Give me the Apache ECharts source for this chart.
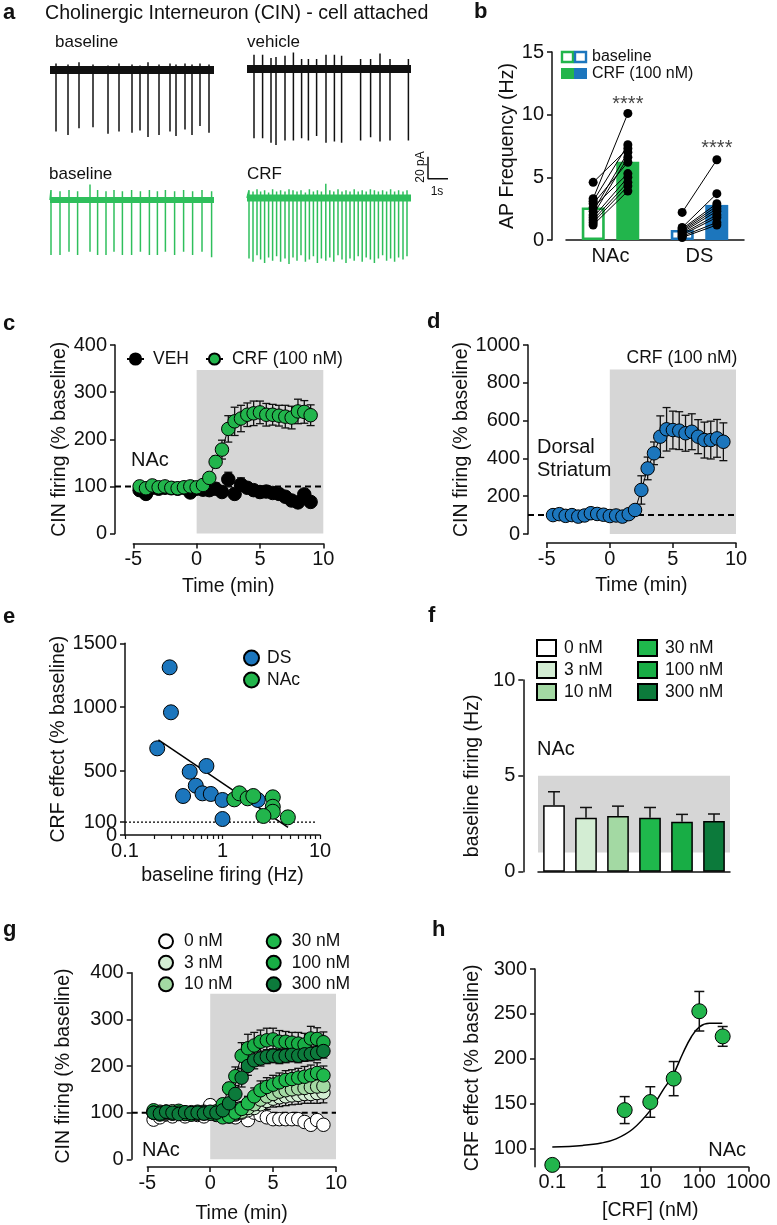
<!DOCTYPE html>
<html><head><meta charset="utf-8">
<script src="https://cdn.jsdelivr.net/npm/echarts@6/dist/echarts.min.js"></script>
<style>html,body{margin:0;padding:0;background:#fff}#c{width:777px;height:1225px}</style>
</head><body><div id="c"></div><script>
// ================= DATA =================
// Panel a: spike trains (time in s, amplitudes in pA)
const traceLengthS = 8.2;
const scaleBarPA = 20, scaleBarS = 1;
const blkBaseTimes = [0.3,0.9,1.45,2.15,2.9,3.45,4.1,4.5,4.9,5.45,6.0,6.3,6.75,7.1,7.5,7.95];
const blkBaseDown  = [56,59,53,52,58,56,57,55,61,59,56,60,54,59,51,57];
const blkBaseUp    = [6,5,7,5,4,6,5,4,7,5,6,5,6,5,6,5];
const vehTimes = [0.35,0.78,1.2,1.45,1.9,2.32,2.73,3.07,3.48,3.95,4.37,4.73,5.68,6.18,6.65,7.15,8.07];
const vehDown  = [63,63,67,69,65,65,63,65,61,67,66,67,65,62,66,65,65];
const vehUp    = [13,13,10,11,12,15,9,9,9,13,13,12,9,9,14,9,9];
const grnBaseTimes = [0.05,0.5,0.95,1.38,2.0,2.38,2.8,3.2,3.62,4.08,4.52,4.97,5.37,5.77,6.23,6.68,7.13,7.6,8.08];
const grnBaseDown  = [50,50,47,50,47,50,50,47,50,50,47,50,50,47,50,47,50,47,52];
const grnBaseUp    = [9,8,9,8,14,9,8,9,8,9,8,9,8,9,8,9,8,9,8];
const crfTimes = [0.1,0.3,0.5,0.68,0.88,1.08,1.28,1.48,1.68,1.9,2.1,2.3,2.5,2.7,2.92,3.12,3.32,3.52,3.72,3.94,4.14,4.34,4.55,4.75,4.95,5.15,5.36,5.56,5.76,5.96,6.17,6.37,6.57,6.78,6.98,7.18,7.38,7.58,7.8,8.0];
const crfDown  = [55,58,52,56,59,54,57,53,58,55,60,54,57,52,58,56,53,59,55,57,54,58,52,56,59,55,57,53,58,54,56,59,55,52,57,55,58,54,56,53];
const crfUp    = [7,6,8,6,7,5,8,6,7,6,8,7,6,7,5,8,6,7,6,13,7,6,8,6,7,6,8,6,7,6,8,7,6,7,6,8,6,7,6,7];

// Panel b
const bCategories = ['NAc','DS'];
const bBaselineMean = [2.6, 0.8];
const bCrfMean = [6.25, 2.8];
const nacBase = [4.6,3.3,3.1,2.9,2.6,2.3,2.0,1.8,1.6,1.4,1.2];
const nacCrf  = [7.3,10.1,7.6,6.2,5.3,7.0,6.6,5.0,4.6,4.3,3.9];
const dsBase  = [2.2,1.0,0.9,0.8,0.7,0.6,0.5,0.4,0.3,0.2];
const dsCrf   = [6.4,3.7,2.9,2.7,2.5,2.3,2.0,1.8,1.4,1.2];
const bStars = ['****','****'];
const bStarY = [10.8, 7.3];

// Time axis shared by c, d, g (min)
const timeMin = [-4.5,-4,-3.5,-3,-2.5,-2,-1.5,-1,-0.5,0,0.5,1,1.5,2,2.5,3,3.5,4,4.5,5,5.5,6,6.5,7,7.5,8,8.5,9];

// Panel c
const cVeh    = [92,84,97,95,97,96,95,97,87,95,93,92,95,88,115,84,104,97,92,88,89,86,84,78,70,66,83,67];
const cVehErr = [8,8,6,6,6,6,6,8,6,6,8,8,12,10,15,10,14,10,10,12,12,10,10,10,8,8,8,8];
const cCrf    = [100,96,102,98,100,97,96,98,100,98,103,118,152,178,222,238,244,252,255,257,252,252,250,248,246,259,258,251];
const cCrfErr = [6,6,6,6,6,6,6,6,6,6,6,10,12,20,28,30,28,25,26,24,24,22,22,24,24,26,24,22];

// Panel d
const dCrf    = [100,105,96,100,92,98,110,106,102,95,98,92,105,127,233,347,427,515,554,550,547,533,541,515,497,497,506,488];
const dCrfErr = [10,10,8,10,8,8,10,10,8,8,8,8,10,20,75,60,60,110,115,100,100,95,95,90,95,100,100,100];

// Panel e
const eDsX  = [0.287,0.296,0.214,0.684,0.461,0.532,0.394,0.622,0.759,1.0,1.0,2.30];
const eDsY  = [1312,960,678,540,495,386,305,326,321,274,125,274];
const eNacX = [1.32,1.49,1.81,2.07,3.28,3.28,3.28,2.63,4.68];
const eNacY = [279,326,287,305,295,221,182,149,138];
const eFitX = [0.22, 4.7];
const eFitY = [745, 60];
const eYTicks = [0,100,500,1000,1500];
const eYLabels = [100,500,1000,1500];
const eYZeroLabel = [0];
const eXTicks = [0.1,0.2,0.3,0.4,0.5,0.6,0.7,0.8,0.9,1,2,3,4,5,6,7,8,9,10];
const eXLabels = [0.1,1,10];

// Panel f
const doseLabels = ['0 nM','3 nM','10 nM','30 nM','100 nM','300 nM'];
const doseColors = ['#ffffff','#d3edd3','#a3d9a3','#1fb84c','#18ad45','#0c7a3b'];
const fBaseline    = [3.47,2.81,2.9,2.81,2.6,2.65];
const fBaselineErr = [0.7,0.54,0.52,0.54,0.39,0.36];
const fShadeY = [1, 5];

// Panel g
const g0   = [85,90,96,92,100,92,96,95,92,116,95,95,92,90,110,84,100,95,90,86,86,86,86,86,80,74,84,74];
const g3   = [100,102,98,100,101,99,97,100,102,98,100,95,92,96,100,105,110,118,125,130,133,135,137,138,140,140,142,143];
const g10  = [102,98,100,103,99,100,101,98,100,99,98,94,95,98,102,110,118,128,135,140,145,148,150,152,153,155,156,157];
const g30  = [105,100,102,98,104,100,99,102,98,100,96,90,92,100,108,120,135,148,155,160,165,170,172,175,177,180,185,180];
const g100 = [100,96,102,98,100,97,96,98,100,98,103,118,152,178,222,238,244,252,255,257,252,252,250,248,246,259,258,251];
const g300 = [100,98,102,100,97,101,99,100,98,102,100,105,120,140,175,200,212,216,220,222,220,222,224,222,225,226,228,232];
const g0Err   = [8,8,8,8,8,8,8,8,8,12,10,8,8,8,10,8,8,8,8,8,8,8,8,8,8,8,8,8];
const g3Err   = [8,8,8,8,8,8,8,8,8,8,8,8,8,8,10,12,15,15,18,18,20,20,20,20,20,20,22,22];
const g10Err  = [8,8,8,8,8,8,8,8,8,8,8,8,8,8,10,12,15,16,18,18,18,20,20,20,20,20,20,20];
const g30Err  = [8,8,8,8,8,8,8,8,8,8,8,8,8,10,12,15,18,20,20,20,20,20,20,20,22,22,22,20];
const g100Err = [6,6,6,6,6,6,6,6,6,6,6,10,12,20,28,30,28,25,26,24,24,22,22,24,24,26,24,22];
const g300Err = [6,6,6,6,6,6,6,6,6,6,6,8,12,18,20,20,18,16,15,15,15,15,15,15,15,15,15,15];

// Panel h
const hDose = [0.1,3,10,30,100,300];
const hEffect = [82,143,152,178,253,225];
const hErr = [0,15,17,19,22,11];
const hCurveX = [0.1,0.42,1,2,4.4,10,18,29,46,69,101,162,295];
const hCurveY = [101.8,103.7,106.3,111,122,142.7,165,181.8,206,224.6,235.7,239.5,239.5];
const hYTicks = [100,150,200,250,300];

// ================= BUILD =================
const FONT = '"Liberation Sans", Arial, Helvetica, sans-serif';
const INK = '#111';
const GREEN = '#22b54c', BLUE = '#1c76bd', TRACE_GREEN = '#2fbf5c', SHADE = '#d6d6d6';
const grid = [], xAxis = [], yAxis = [], series = [], legend = [], graphic = [];
const plain = v => String(v);

function G(l, t, w, h) { grid.push({left:l, top:t, width:w, height:h}); return grid.length - 1; }
function merge(a, b) {
  const o = Object.assign({}, a);
  for (const k in b) {
    if (b[k] && typeof b[k] === 'object' && !Array.isArray(b[k]) && a[k] && typeof a[k] === 'object') o[k] = merge(a[k], b[k]);
    else o[k] = b[k];
  }
  return o;
}
const visBase = {
  axisLine:{show:true, onZero:false, lineStyle:{color:INK, width:1.5}},
  axisTick:{show:true, length:5, lineStyle:{color:INK, width:1.5}},
  axisLabel:{color:INK, fontSize:20, fontFamily:FONT, margin:8, formatter:plain, hideOverlap:false},
  splitLine:{show:false},
  nameTextStyle:{color:INK, fontSize:19.5, fontFamily:FONT}
};
function X(gi, o) { xAxis.push(merge(merge({gridIndex:gi}, visBase), o)); return xAxis.length - 1; }
function Y(gi, o) { yAxis.push(merge(merge({gridIndex:gi}, visBase), o)); return yAxis.length - 1; }
function HX(gi, o) { xAxis.push(Object.assign({gridIndex:gi, type:'value', show:false}, o)); return xAxis.length - 1; }
function HY(gi, o) { yAxis.push(Object.assign({gridIndex:gi, type:'value', show:false}, o)); return yAxis.length - 1; }

function errBars(xi, yi, pts, opt) {
  opt = opt || {};
  const color = opt.color || INK, cap = opt.cap || 4, lw = opt.lw || 1.3;
  return {
    type:'custom', xAxisIndex:xi, yAxisIndex:yi, z:opt.z || 2, clip:false, silent:true, data:pts,
    renderItem(params, api) {
      const x = api.value(0), y = api.value(1), e = api.value(2);
      if (!e) return null;
      const top = api.coord([x, y + e]);
      const bot = api.coord([x, opt.upOnly ? y : y - e]);
      const st = {stroke:color, lineWidth:lw};
      const ch = [
        {type:'line', shape:{x1:top[0], y1:top[1], x2:bot[0], y2:bot[1]}, style:st},
        {type:'line', shape:{x1:top[0]-cap, y1:top[1], x2:top[0]+cap, y2:top[1]}, style:st}
      ];
      if (!opt.upOnly) ch.push({type:'line', shape:{x1:bot[0]-cap, y1:bot[1], x2:bot[0]+cap, y2:bot[1]}, style:st});
      return {type:'group', children:ch};
    }
  };
}
function txt(t, x, y, o) {
  o = o || {};
  graphic.push({type:'text', x:x, y:y, rotation:o.rot || 0, z:50, silent:true,
    style:{text:t, fill:o.color || INK, font:(o.weight || 'normal') + ' ' + (o.size || 19.5) + 'px ' + FONT,
      textAlign:o.align || 'left', align:o.align || 'left', textVerticalAlign:'middle', verticalAlign:'middle'}});
}
function zip(xs, ys) { return xs.map((x, i) => [x, ys[i]]); }
function zip3(xs, ys, es) { return xs.map((x, i) => [x, ys[i], es[i]]); }

// ---------- Panel a ----------
function tracePoints(times, up, down, len) {
  const p = [[0, 0]];
  times.forEach((t, i) => { p.push([t, 0], [t, up[i]], [t, -down[i]], [t, 0]); });
  p.push([len, 0]);
  return p;
}
function traceGrid(left, top, width, xmax, times, up, down, color, band) {
  const gi = G(left, top, width, 126.5);
  const xi = HX(gi, {min:0, max:xmax});
  const yi = HY(gi, {min:-70, max:45});
  series.push({type:'line', xAxisIndex:xi, yAxisIndex:yi, data:[[0,0],[traceLengthS,0]], showSymbol:false, symbol:'none',
    lineStyle:{color:color, width:band}, silent:true, z:2});
  series.push({type:'line', xAxisIndex:xi, yAxisIndex:yi, data:tracePoints(times, up, down, traceLengthS), showSymbol:false, symbol:'none',
    lineStyle:{color:color, width:1.5}, silent:true, z:3});
  return [xi, yi];
}
traceGrid(50, 20.5, 164, 8.2, blkBaseTimes, blkBaseUp, blkBaseDown, '#111', 8);
traceGrid(247, 19.5, 164, 8.2, vehTimes, vehUp, vehDown, '#111', 8);
traceGrid(50, 150.5, 164, 8.2, grnBaseTimes, grnBaseUp, grnBaseDown, TRACE_GREEN, 6);
const crfAx = traceGrid(247, 148.5, 202, 10.1, crfTimes, crfUp, crfDown, TRACE_GREEN, 7);
// scale bar (20 pA, 1 s)
series.push({type:'line', xAxisIndex:crfAx[0], yAxisIndex:crfAx[1], showSymbol:false, symbol:'none', silent:true,
  data:[[9.05, 17.5 + scaleBarPA], [9.05, 17.5], [9.05 + scaleBarS, 17.5]], lineStyle:{color:INK, width:1.5}});

txt('a', 3, 13, {weight:'bold', size:22});
txt('Cholinergic Interneuron (CIN) - cell attached', 45, 14, {size:19.6});
txt('baseline', 55, 42, {size:17});
txt('vehicle', 247, 42, {size:17});
txt('baseline', 49, 174, {size:17});
txt('CRF', 247, 174, {size:17});
txt(scaleBarPA + ' pA', 421, 167, {size:12, rot:Math.PI / 2, align:'center'});
txt(scaleBarS + 's', 437, 192, {size:12, align:'center'});

// ---------- Panel b ----------
{
  const gi = G(566, 52, 178, 188);
  const xc = X(gi, {type:'category', data:bCategories, axisTick:{show:false}, axisLabel:{margin:6}});
  const xv = HX(gi, {min:0, max:4});
  const yi = Y(gi, {type:'value', min:0, max:15, interval:5, offset:14, name:'AP Frequency (Hz)',
    nameLocation:'middle', nameRotate:90, nameGap:34});
  series.push({type:'bar', name:'b-baseline', xAxisIndex:xc, yAxisIndex:yi, barWidth:23, barGap:'50%', z:2,
    data:[{value:bBaselineMean[0], itemStyle:{color:'#fff', borderColor:GREEN, borderWidth:2.6}},
          {value:bBaselineMean[1], itemStyle:{color:'#fff', borderColor:BLUE, borderWidth:2.6}}]});
  series.push({type:'bar', name:'b-crf', xAxisIndex:xc, yAxisIndex:yi, barWidth:23, z:2,
    data:[{value:bCrfMean[0], itemStyle:{color:GREEN}}, {value:bCrfMean[1], itemStyle:{color:BLUE}}]});
  const pairs = [[nacBase, nacCrf, 0.61, 1.39], [dsBase, dsCrf, 2.61, 3.39]];
  pairs.forEach(([bs, cs, x0, x1]) => {
    bs.forEach((b, i) => {
      series.push({type:'line', xAxisIndex:xv, yAxisIndex:yi, data:[[x0, b], [x1, cs[i]]], symbol:'circle', symbolSize:9,
        itemStyle:{color:'#000'}, lineStyle:{color:'#000', width:1}, z:4, silent:true});
    });
  });
  series.push({type:'scatter', xAxisIndex:xv, yAxisIndex:yi, symbolSize:1, itemStyle:{color:'rgba(0,0,0,0)'}, z:5, silent:true,
    data:[[1.39, bStarY[0], bStars[0]], [3.39, bStarY[1], bStars[1]]],
    label:{show:true, position:'inside', formatter:p => p.value[2], color:INK, fontSize:20, fontFamily:FONT}});
  txt('b', 474, 12, {weight:'bold', size:22});
  graphic.push({type:'rect', shape:{x:562, y:52, width:11, height:10}, style:{fill:'#fff', stroke:GREEN, lineWidth:2.4}, z:50});
  graphic.push({type:'rect', shape:{x:575, y:52, width:11, height:10}, style:{fill:'#fff', stroke:BLUE, lineWidth:2.4}, z:50});
  graphic.push({type:'rect', shape:{x:561, y:68, width:13, height:11}, style:{fill:GREEN}, z:50});
  graphic.push({type:'rect', shape:{x:574, y:68, width:13, height:11}, style:{fill:BLUE}, z:50});
  txt('baseline', 592, 57, {size:16});
  txt('CRF (100 nM)', 592, 73.5, {size:16});
}

// ---------- helper for time-course panels ----------
function timePanel(cfg) {
  const gi = G(cfg.yAxisX, cfg.top, cfg.x10 - cfg.yAxisX, cfg.height);
  const pxPerMin = (cfg.x10 - cfg.xm5) / 15;
  const xmin = -5 - (cfg.xm5 - cfg.yAxisX) / pxPerMin;
  const xi = HX(gi, {min:xmin, max:10});
  const yi = Y(gi, {type:'value', min:0, max:cfg.ymax, interval:cfg.yint, name:'CIN firing (% baseline)',
    nameLocation:'middle', nameRotate:90, nameGap:cfg.nameGap});
  const gi2 = G(cfg.xm5, cfg.top, cfg.x10 - cfg.xm5, cfg.height);
  X(gi2, {type:'value', min:-5, max:10, interval:5, offset:cfg.xOffset, name:'Time (min)', nameLocation:'middle', nameGap:cfg.xNameGap || 33,
    axisLabel:{margin:6}});
  HY(gi2, {min:0, max:cfg.ymax});
  series.push({type:'line', xAxisIndex:xi, yAxisIndex:yi, data:[[xmin, 100], [10, 100]], symbol:'none', silent:true, z:1,
    lineStyle:{color:'#000', width:2, type:[6, 4]},
    markArea:{silent:true, itemStyle:{color:SHADE}, data:[[{coord:[0, 0]}, {coord:[10, cfg.shadeTop]}]]}});
  return [xi, yi];
}
function markerSeries(name, xi, yi, ys, color, z) {
  return {type:'line', name:name, xAxisIndex:xi, yAxisIndex:yi, data:zip(timeMin, ys), symbol:'circle', symbolSize:13.5,
    showSymbol:true, itemStyle:{color:color, borderColor:'#000', borderWidth:1}, lineStyle:{color:'#000', width:1}, z:z || 4, silent:true};
}

// ---------- Panel c ----------
{
  const [xi, yi] = timePanel({yAxisX:115, xm5:133.3, x10:323.3, top:345, height:188.5, ymax:400, yint:100, shadeTop:347, nameGap:42, xOffset:10});
  series.push(errBars(xi, yi, zip3(timeMin, cVeh, cVehErr), {cap:4}));
  series.push(errBars(xi, yi, zip3(timeMin, cCrf, cCrfErr), {cap:4}));
  series.push(markerSeries('VEH', xi, yi, cVeh, '#000', 4));
  series.push(markerSeries('CRF (100 nM)', xi, yi, cCrf, GREEN, 5));
  legend.push({data:['VEH', 'CRF (100 nM)'], left:126, top:350, itemWidth:17, itemHeight:14, itemGap:16, padding:0,
    selectedMode:false, textStyle:{fontSize:17.5, fontFamily:FONT, color:INK, padding:[0,0,0,4]}});
  txt('c', 3, 324, {weight:'bold', size:22});
  txt('NAc', 131, 460, {size:20});
}

// ---------- Panel d ----------
{
  const [xi, yi] = timePanel({yAxisX:528, xm5:546.7, x10:736, top:345, height:189, ymax:1000, yint:200, shadeTop:870, nameGap:55, xOffset:9});
  series.push(errBars(xi, yi, zip3(timeMin, dCrf, dCrfErr), {cap:4}));
  series.push(markerSeries('d-CRF', xi, yi, dCrf, BLUE, 5));
  txt('d', 427, 322, {weight:'bold', size:22});
  txt('CRF (100 nM)', 682, 358, {size:17.5, align:'center'});
  txt('Dorsal', 537, 447, {size:20});
  txt('Striatum', 537, 470, {size:20});
}

// ---------- Panel e ----------
{
  const gi = G(125, 643.3, 195, 191.7);
  const xi = X(gi, {type:'log', logBase:10, min:0.1, max:10, name:'baseline firing (Hz)', nameLocation:'middle', nameGap:31,
    axisTick:{customValues:eXTicks, length:4, lineStyle:{width:1.2}}, axisLabel:{margin:6, customValues:eXLabels}});
  const yi = Y(gi, {type:'value', min:0, max:1500, position:'left', name:'CRF effect (% baseline)', nameLocation:'middle', nameRotate:90, nameGap:52,
    axisTick:{customValues:eYTicks}, axisLabel:{customValues:eYLabels}});
  // second left axis carrying only the "0" label (it overlaps "100" in the original)
  Y(gi, {type:'value', min:0, max:1500, position:'left', offset:0, axisLine:{show:false}, axisTick:{show:false},
    axisLabel:{customValues:eYZeroLabel}});
  series.push({type:'line', xAxisIndex:xi, yAxisIndex:yi, data:[[0.1, 100], [9.2, 100]], symbol:'none', silent:true, z:1,
    lineStyle:{color:'#000', width:1.3, type:[2, 2]}});
  series.push({type:'line', xAxisIndex:xi, yAxisIndex:yi, data:zip(eFitX, eFitY), symbol:'none', silent:true, z:2,
    lineStyle:{color:'#000', width:1.5}});
  series.push({type:'scatter', name:'DS', xAxisIndex:xi, yAxisIndex:yi, data:zip(eDsX, eDsY), symbolSize:15, z:3,
    itemStyle:{color:BLUE, borderColor:'#000', borderWidth:1, opacity:1}});
  series.push({type:'scatter', name:'NAc', xAxisIndex:xi, yAxisIndex:yi, data:zip(eNacX, eNacY), symbolSize:15, z:4,
    itemStyle:{color:GREEN, borderColor:'#000', borderWidth:1, opacity:1}});
  legend.push({data:['DS', 'NAc'], orient:'vertical', left:243, top:649, itemWidth:15, itemHeight:15, itemGap:4, padding:0,
    icon:'circle', selectedMode:false, textStyle:{fontSize:17.5, fontFamily:FONT, color:INK, lineHeight:15, padding:[0,0,0,3]}});
  txt('e', 3, 617, {weight:'bold', size:22});
}

// ---------- Panel f ----------
{
  const gi = G(538, 680, 192, 191.7);
  const xi = X(gi, {type:'category', data:doseLabels, axisTick:{show:false}, axisLabel:{show:false}});
  const xv = HX(gi, {min:0, max:1});
  const yi = Y(gi, {type:'value', min:0, max:10, interval:5, offset:14.7, name:'baseline firing (Hz)', nameLocation:'middle',
    nameRotate:90, nameGap:41});
  series.push({type:'line', xAxisIndex:xv, yAxisIndex:yi, data:[], symbol:'none', silent:true, z:0,
    markArea:{silent:true, itemStyle:{color:SHADE}, data:[[{coord:[-0.016, fShadeY[0]]}, {coord:[1.036, fShadeY[1]]}]]}});
  doseLabels.forEach((d, i) => {
    series.push({type:'bar', name:'f:' + d, xAxisIndex:xi, yAxisIndex:yi, stack:'f', barWidth:21.7, z:2,
      data:doseLabels.map((_, j) => j === i ? fBaseline[i] : '-'),
      itemStyle:{color:doseColors[i], borderColor:'#000', borderWidth:1.5}});
  });
  series.push(errBars(xi, yi, doseLabels.map((_, i) => [i, fBaseline[i], fBaselineErr[i]]), {upOnly:true, cap:6, lw:1.5, z:3}));
  const lg = {orient:'vertical', top:639, itemWidth:19, itemHeight:16, itemGap:4, padding:0, icon:'rect', selectedMode:false,
    formatter:n => n.split(':')[1], textStyle:{fontSize:17.5, fontFamily:FONT, color:INK, lineHeight:16, padding:[0,0,0,3]}};
  legend.push(Object.assign({left:536, data:['f:0 nM','f:3 nM','f:10 nM']}, lg));
  legend.push(Object.assign({left:637, data:['f:30 nM','f:100 nM','f:300 nM']}, lg));
  txt('f', 428, 616, {weight:'bold', size:22});
  txt('NAc', 537, 749, {size:20});
}

// ---------- Panel g ----------
{
  const [xi, yi] = timePanel({yAxisX:131.7, xm5:147.3, x10:336, top:972.7, height:186.6, ymax:400, yint:100, shadeTop:355, nameGap:58, xOffset:10, xNameGap:37});
  const gSeries = [g0, g3, g10, g30, g100, g300];
  const gErrs = [g0Err, g3Err, g10Err, g30Err, g100Err, g300Err];
  gSeries.forEach((ys, i) => series.push(errBars(xi, yi, zip3(timeMin, ys, gErrs[i]), {cap:4, z:2})));
  gSeries.forEach((ys, i) => series.push(markerSeries('g:' + doseLabels[i], xi, yi, ys, doseColors[i], 4 + i * 0.1)));
  const lg = {orient:'vertical', top:932.3, itemWidth:14, itemHeight:14, itemGap:3.5, padding:0, icon:'circle', selectedMode:false,
    formatter:n => n.split(':')[1], textStyle:{fontSize:17.5, fontFamily:FONT, color:INK, lineHeight:14, padding:[0,0,0,6]}};
  legend.push(Object.assign({left:158, data:['g:0 nM','g:3 nM','g:10 nM']}, lg));
  legend.push(Object.assign({left:265.7, data:['g:30 nM','g:100 nM','g:300 nM']}, lg));
  txt('g', 3, 930, {weight:'bold', size:22});
  txt('NAc', 142, 1150, {size:20});
}

// ---------- Panel h ----------
{
  const gi = G(552.3, 969, 196, 197.7);
  const xi = X(gi, {type:'log', logBase:10, min:0.1, max:1000, name:'[CRF] (nM)', nameLocation:'middle', nameGap:34,
    axisLabel:{margin:6}});
  const yi = Y(gi, {type:'value', min:80, max:300, offset:17.3, name:'CRF effect (% baseline)', nameLocation:'middle',
    nameRotate:90, nameGap:52, axisTick:{customValues:hYTicks}, axisLabel:{customValues:hYTicks}});
  series.push({type:'line', xAxisIndex:xi, yAxisIndex:yi, data:zip(hCurveX, hCurveY), symbol:'none', smooth:0.4, silent:true, z:2,
    lineStyle:{color:'#000', width:1.5}});
  series.push(errBars(xi, yi, zip3(hDose, hEffect, hErr), {cap:5, lw:1.5, z:3}));
  series.push({type:'scatter', xAxisIndex:xi, yAxisIndex:yi, data:zip(hDose, hEffect), symbolSize:15, z:4, silent:true, clip:false,
    itemStyle:{color:GREEN, borderColor:'#000', borderWidth:1, opacity:1}});
  txt('h', 432, 930, {weight:'bold', size:22});
  txt('NAc', 746, 1150, {size:20, align:'right'});
}

const chart = echarts.init(document.getElementById('c'), null, {renderer:'canvas'});
chart.setOption({
  animation:false, backgroundColor:'#fff', textStyle:{fontFamily:FONT},
  grid:grid, xAxis:xAxis, yAxis:yAxis, series:series, legend:legend, graphic:graphic
});
</script></body></html>
